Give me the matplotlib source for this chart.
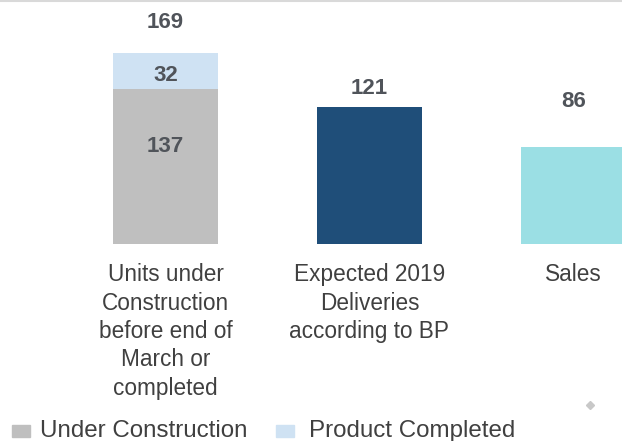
import matplotlib.pyplot as plt
from matplotlib.patches import Rectangle

categories = ['Units under\nConstruction\nbefore end of\nMarch or\ncompleted',
              'Expected 2019\nDeliveries\naccording to BP',
              'Sales']
under_construction = [137, 0, 0]
product_completed = [32, 0, 0]
deliveries = [0, 121, 0]
sales = [0, 0, 86]
totals = [169, 121, 86]

# label heights (data units)
total_label_y = [196, 138, 126]

plt.rcParams['font.family'] = ['Liberation Sans', 'DejaVu Sans']
txt = '#404040'
num = '#50545a'

fig = plt.figure(figsize=(6.22, 4.41), dpi=100)
ax = fig.add_axes([0, 0, 1, 1])
ax.set_xlim(-0.811, 2.238)
ax.set_ylim(-174.3, 215.9)
ax.axis('off')

x = [0, 1, 2]
w = 0.515
ax.bar(x, under_construction, width=w, color='#bfbfbf', label='Under Construction')
ax.bar(x, product_completed, width=w, bottom=under_construction, color='#cfe2f3',
       label='Product Completed')
ax.bar(x, deliveries, width=w, color='#1f4e79')
ax.bar(x, sales, width=w, color='#9bdfe4')

# value labels
for i, t in enumerate(totals):
    ax.text(x[i], total_label_y[i], str(t), ha='center', va='center',
            fontsize=16, fontweight='bold', color=num)
ax.text(x[0], under_construction[0] + 12.5, str(product_completed[0]), ha='center',
        va='center', fontsize=16, fontweight='bold', color=num)
ax.text(x[0], 86, str(under_construction[0]), ha='center', va='center',
        fontsize=16, fontweight='bold', color=num)

# category labels
for i, c in enumerate(categories):
    ax.text(x[i], -17, c, ha='center', va='top', fontsize=16.3, color=txt,
            linespacing=1.3)

# top rule
fig.add_artist(plt.Line2D([0, 1], [0.997, 0.997], color='#d9d9d9', lw=1.5))

# legend
fig.add_artist(Rectangle((12 / 622, 4 / 441), 18 / 622, 12 / 441, color='#bfbfbf'))
fig.text(40 / 622, 10 / 441, 'Under Construction', fontsize=17.4, color=txt,
         va='center', ha='left')
fig.text(309 / 622, 10 / 441, 'Product Completed', fontsize=17.4, color=txt,
         va='center', ha='left')
fig.add_artist(Rectangle((276 / 622, 4 / 441), 18 / 622, 12 / 441, color='#cfe2f3'))

# small mark
fig.add_artist(plt.Line2D([590 / 622], [36 / 441], marker='D', markersize=4,
                          color='#c8c8c8', lw=0))

fig.savefig('out.png', dpi=100)
